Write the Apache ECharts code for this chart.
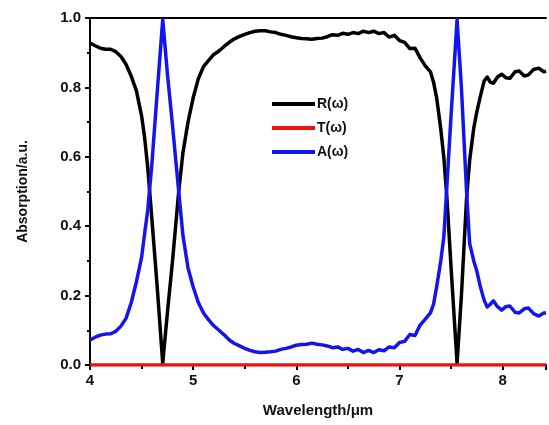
<!DOCTYPE html>
<html>
<head>
<meta charset="utf-8">
<script src="https://cdn.jsdelivr.net/npm/echarts@6/dist/echarts.min.js"></script>
<style>
  html, body { margin: 0; padding: 0; background: #fff; }
  #chart { width: 549px; height: 425px; }
</style>
</head>
<body>
<div id="chart"></div>
<script>
// wavelength in um
var wavelength = [4.00, 4.05, 4.10, 4.15, 4.20, 4.25, 4.30, 4.35, 4.40, 4.45, 4.50, 4.53, 4.56, 4.60, 4.65, 4.705,
  4.75, 4.80, 4.86, 4.90, 4.95, 5.00, 5.05, 5.10, 5.15, 5.20, 5.25, 5.30, 5.35, 5.40, 5.45, 5.50, 5.55, 5.60,
  5.65, 5.70, 5.75, 5.80, 5.85, 5.90, 5.95, 6.00, 6.05, 6.10, 6.15, 6.20, 6.25, 6.30, 6.35, 6.40, 6.45, 6.50,
  6.55, 6.60, 6.65, 6.70, 6.75, 6.80, 6.85, 6.90, 6.95, 7.00, 7.05, 7.10, 7.15, 7.20, 7.25, 7.30, 7.33, 7.36,
  7.40, 7.43, 7.46, 7.50, 7.558, 7.60, 7.65, 7.68, 7.72, 7.75, 7.78, 7.82, 7.85, 7.88, 7.91, 7.95, 7.99, 8.03,
  8.07, 8.12, 8.16, 8.21, 8.25, 8.30, 8.35, 8.40, 8.42];

var reflect = [0.928, 0.920, 0.913, 0.910, 0.910, 0.903, 0.889, 0.866, 0.832, 0.790, 0.718, 0.654, 0.568, 0.420, 0.230, 0.005,
  0.150, 0.300, 0.500, 0.610, 0.700, 0.770, 0.825, 0.860, 0.878, 0.895, 0.905, 0.918, 0.930, 0.940, 0.947, 0.953, 0.958, 0.962,
  0.963, 0.963, 0.960, 0.958, 0.953, 0.950, 0.946, 0.943, 0.941, 0.940, 0.939, 0.941, 0.942, 0.946, 0.952, 0.950, 0.956, 0.953,
  0.958, 0.955, 0.962, 0.958, 0.962, 0.955, 0.958, 0.945, 0.950, 0.935, 0.930, 0.912, 0.913, 0.885, 0.862, 0.845, 0.815, 0.770,
  0.680, 0.597, 0.480, 0.280, 0.005, 0.200, 0.480, 0.590, 0.683, 0.730, 0.770, 0.818, 0.830, 0.815, 0.812, 0.830, 0.838, 0.828,
  0.826, 0.845, 0.847, 0.833, 0.836, 0.852, 0.855, 0.845, 0.847];

var transmit = [0, 0, 0, 0, 0, 0, 0, 0, 0, 0, 0, 0, 0, 0, 0, 0,
  0, 0, 0, 0, 0, 0, 0, 0, 0, 0, 0, 0, 0, 0, 0, 0, 0, 0,
  0, 0, 0, 0, 0, 0, 0, 0, 0, 0, 0, 0, 0, 0, 0, 0, 0, 0,
  0, 0, 0, 0, 0, 0, 0, 0, 0, 0, 0, 0, 0, 0, 0, 0, 0, 0,
  0, 0, 0, 0, 0, 0, 0, 0, 0, 0, 0, 0, 0, 0, 0, 0, 0, 0,
  0, 0, 0, 0, 0, 0, 0, 0, 0];

var absorb = [0.072, 0.080, 0.086, 0.089, 0.090, 0.097, 0.112, 0.135, 0.180, 0.240, 0.310, 0.380, 0.447, 0.580, 0.780, 0.995,
  0.840, 0.690, 0.500, 0.375, 0.280, 0.225, 0.180, 0.150, 0.130, 0.113, 0.100, 0.087, 0.072, 0.062, 0.055, 0.048, 0.042, 0.038,
  0.036, 0.037, 0.038, 0.040, 0.045, 0.048, 0.052, 0.057, 0.059, 0.060, 0.063, 0.060, 0.058, 0.055, 0.050, 0.052, 0.045, 0.048,
  0.040, 0.045, 0.036, 0.042, 0.036, 0.044, 0.041, 0.052, 0.050, 0.065, 0.068, 0.088, 0.085, 0.115, 0.132, 0.150, 0.175, 0.225,
  0.300, 0.370, 0.520, 0.720, 0.995, 0.800, 0.500, 0.350, 0.300, 0.270, 0.230, 0.187, 0.167, 0.175, 0.185, 0.168, 0.158, 0.168,
  0.170, 0.152, 0.150, 0.162, 0.164, 0.148, 0.141, 0.150, 0.150];

var seriesNames = ['R(\u03c9)', 'T(\u03c9)', 'A(\u03c9)'];
var seriesColors = ['#000000', '#ee1111', '#1414f0'];

function pairs(ys) {
  var out = [];
  for (var i = 0; i < wavelength.length; i++) out.push([wavelength[i], ys[i]]);
  return out;
}

var font = 'Liberation Sans, Arial, sans-serif';
var myChart = echarts.init(document.getElementById('chart'));
var option = {
  animation: false,
  grid: { left: 90, right: 0, top: 18, bottom: 60 },
  legend: {
    orient: 'vertical',
    left: 267,
    top: 92,
    icon: 'rect',
    itemWidth: 43,
    itemHeight: 4,
    itemGap: 10,
    data: seriesNames,
    textStyle: { fontFamily: font, fontWeight: 'bold', fontSize: 14, color: '#111', padding: [0, 0, 0, -3] }
  },
  xAxis: [{
    type: 'value',
    min: 4,
    max: 8.42,
    interval: 1,
    name: 'Wavelength/\u03bcm',
    nameLocation: 'middle',
    nameGap: 38,
    nameTextStyle: { fontFamily: font, fontWeight: 'bold', fontSize: 15, color: '#111' },
    axisLine: { show: true, lineStyle: { color: '#000', width: 2 } },
    axisTick: { show: true, inside: false, length: 5, lineStyle: { color: '#000', width: 2 } },
    minorTick: { show: true, splitNumber: 2, length: 4, lineStyle: { color: '#000', width: 2 } },
    axisLabel: {
      fontFamily: font, fontWeight: 'bold', fontSize: 15, color: '#111', margin: 8,
      formatter: function (v) { return (v > 8.3) ? '' : String(v); }
    },
    splitLine: { show: false }
  }, {
    type: 'value',
    position: 'top',
    min: 4,
    max: 8.42,
    axisLine: { show: true, lineStyle: { color: '#000', width: 2 } },
    axisTick: { show: false },
    axisLabel: { show: false },
    splitLine: { show: false }
  }],
  yAxis: {
    type: 'value',
    min: 0,
    max: 1,
    interval: 0.2,
    name: 'Absorption/a.u.',
    nameLocation: 'middle',
    nameGap: 60,
    nameTextStyle: { fontFamily: font, fontWeight: 'bold', fontSize: 14, color: '#111' },
    axisLine: { show: true, lineStyle: { color: '#000', width: 2 } },
    axisTick: { show: true, inside: false, length: 5, lineStyle: { color: '#000', width: 2 } },
    minorTick: { show: true, splitNumber: 2, length: 3, lineStyle: { color: '#000', width: 2 } },
    axisLabel: {
      fontFamily: font, fontWeight: 'bold', fontSize: 15, color: '#111', margin: 9,
      formatter: function (v) { return v.toFixed(1); }
    },
    splitLine: { show: false }
  },
  series: seriesNames.map(function (name, k) {
    return {
      name: name,
      type: 'line',
      xAxisIndex: 0,
      data: pairs([reflect, transmit, absorb][k]),
      symbol: 'none',
      smooth: false,
      color: seriesColors[k],
      lineStyle: { color: seriesColors[k], width: 3.5, join: 'round' },
      z: k === 1 ? 4 : 3
    };
  })
};
myChart.setOption(option);
</script>
</body>
</html>
